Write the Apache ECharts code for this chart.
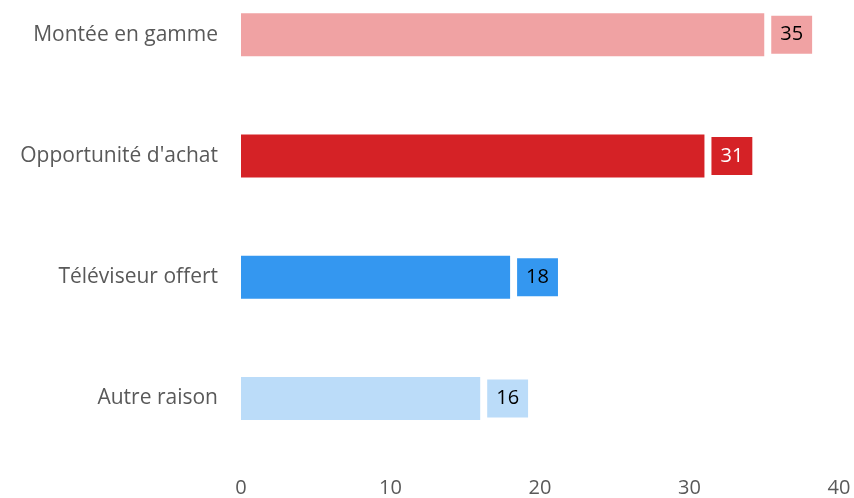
<!DOCTYPE html>
<html>
<head>
<meta charset="utf-8">
<script src="https://cdn.jsdelivr.net/npm/echarts@6/dist/echarts.min.js"></script>
<style>
  html, body { margin: 0; padding: 0; background: #fff; overflow: hidden; }
  /* the plot's first band starts above the visible page, so the canvas is shifted up */
  #chart { width: 854px; height: 524px; margin-top: -26px; }
</style>
</head>
<body>
<div id="chart"></div>
<script>
// Reasons, listed top to bottom
const categories = ['Montée en gamme', "Opportunité d'achat", 'Téléviseur offert', 'Autre raison'];
const values = [35, 31, 18, 16];
const barColors = ['#F0A2A3', '#D52226', '#3497F0', '#BBDCF9'];
const labelColors = ['#000000', '#FFFFFF', '#000000', '#000000'];
const xTicks = [0, 10, 20, 30, 40];

const font = '"Open Sans", "Liberation Sans", sans-serif';

const chart = echarts.init(document.getElementById('chart'), null, { renderer: 'canvas' });

chart.setOption({
  animation: false,
  backgroundColor: '#ffffff',
  grid: { left: 241, right: 15, top: 0, bottom: 36, containLabel: false },
  xAxis: {
    type: 'value',
    min: xTicks[0],
    max: xTicks[xTicks.length - 1],
    interval: 10,
    axisLine: { show: false },
    axisTick: { show: false },
    splitLine: { show: false },
    axisLabel: {
      color: '#595959',
      fontFamily: font,
      fontSize: 20,
      lineHeight: 20,
      margin: 19
    }
  },
  yAxis: {
    type: 'category',
    inverse: true,
    data: categories,
    axisLine: { show: false },
    axisTick: { show: false },
    axisLabel: {
      color: '#595959',
      fontFamily: font,
      fontSize: 21,
      margin: 23
    }
  },
  series: [{
    type: 'bar',
    barWidth: 43,
    data: values.map((v, i) => ({
      value: v,
      itemStyle: { color: barColors[i] },
      label: {
        color: labelColors[i],
        backgroundColor: barColors[i]
      }
    })),
    label: {
      show: true,
      position: 'right',
      distance: 7,
      fontFamily: font,
      fontSize: 20,
      lineHeight: 20,
      padding: [9, 9, 9, 9]
    }
  }]
});
</script>
</body>
</html>
